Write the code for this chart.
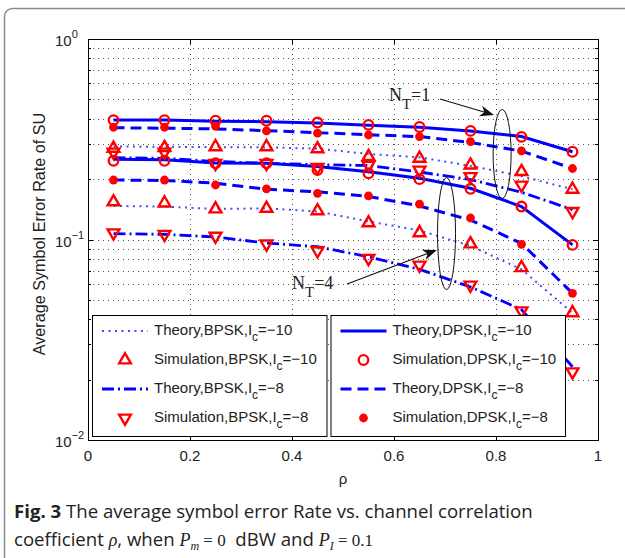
<!DOCTYPE html>
<html>
<head>
<meta charset="utf-8">
<script src="https://cdn.jsdelivr.net/npm/d3@7"></script>
<style>
  body { margin: 0; background: #fff; }
  svg { display: block; }
</style>
</head>
<body>
<div id="chart"></div>
<script>
// rho values where the curves were evaluated
const rho = [0.05, 0.15, 0.25, 0.35, 0.45, 0.55, 0.65, 0.75, 0.85, 0.95];

// N_T = 1
const bpskTheoryM10Nt1 = [0.291, 0.290, 0.289, 0.288, 0.284, 0.267, 0.257, 0.233, 0.207, 0.178];
const bpskSimM10Nt1 = [0.285, 0.287, 0.290, 0.290, 0.283, 0.259, 0.254, 0.235, 0.218, 0.178];
const bpskTheoryM8Nt1 = [0.256, 0.254, 0.245, 0.240, 0.236, 0.234, 0.217, 0.199, 0.172, 0.141];
const bpskSimM8Nt1 = [0.273, 0.273, 0.240, 0.240, 0.229, 0.235, 0.222, 0.206, 0.187, 0.138];
const dpskTheoryM10Nt1 = [0.394, 0.394, 0.389, 0.387, 0.381, 0.371, 0.363, 0.348, 0.326, 0.274];
const dpskSimM10Nt1 = [0.394, 0.394, 0.391, 0.391, 0.383, 0.373, 0.364, 0.348, 0.325, 0.274];
const dpskTheoryM8Nt1 = [0.361, 0.359, 0.356, 0.349, 0.341, 0.333, 0.326, 0.305, 0.276, 0.226];
const dpskSimM8Nt1 = [0.363, 0.363, 0.368, 0.348, 0.339, 0.332, 0.326, 0.308, 0.277, 0.226];

// N_T = 4
const bpskTheoryM10Nt4 = [0.147, 0.146, 0.142, 0.143, 0.138, 0.123, 0.111, 0.093, 0.071, 0.043];
const bpskSimM10Nt4 = [0.154, 0.152, 0.142, 0.143, 0.139, 0.121, 0.108, 0.095, 0.0723, 0.0431];
const bpskTheoryM8Nt4 = [0.107, 0.106, 0.103, 0.096, 0.092, 0.082, 0.071, 0.058, 0.0447, 0.0232];
const bpskSimM8Nt4 = [0.108, 0.106, 0.104, 0.095, 0.088, 0.0806, 0.0746, 0.0593, 0.0441, 0.0219];
const dpskTheoryM10Nt4 = [0.251, 0.250, 0.241, 0.240, 0.231, 0.218, 0.202, 0.180, 0.146, 0.094];
const dpskSimM10Nt4 = [0.247, 0.247, 0.240, 0.240, 0.222, 0.214, 0.200, 0.179, 0.146, 0.094];
const dpskTheoryM8Nt4 = [0.198, 0.197, 0.191, 0.178, 0.173, 0.164, 0.147, 0.125, 0.0957, 0.0539];
const dpskSimM8Nt4 = [0.198, 0.198, 0.187, 0.179, 0.170, 0.165, 0.150, 0.128, 0.0946, 0.0539];

// axis ticks
const xTicks = [0, 0.2, 0.4, 0.6, 0.8, 1];
const xTickLabels = ['0', '0.2', '0.4', '0.6', '0.8', '1'];
const yDecades = [0.01, 0.1, 1];
const yExponents = ['\u22122', '\u22121', '0'];

// legend text: [main, subscript, tail]
const legendLeft = [
  ['Theory,BPSK,I', 'c', '=\u221210'],
  ['Simulation,BPSK,I', 'c', '=\u221210'],
  ['Theory,BPSK,I', 'c', '=\u22128'],
  ['Simulation,BPSK,I', 'c', '=\u22128'],
];
const legendRight = [
  ['Theory,DPSK,I', 'c', '=\u221210'],
  ['Simulation,DPSK,I', 'c', '=\u221210'],
  ['Theory,DPSK,I', 'c', '=\u22128'],
  ['Simulation,DPSK,I', 'c', '=\u22128'],
];

const width = 625;
const height = 558;
const margin = { top: 39, right: 27, bottom: 118, left: 88 };

const blue = '#0000ff';
const red = '#ff0000';

const styles = {
  bpsk10: { dash: '2,4.5', width: 2, color: '#3d4dff', marker: 'up' },
  bpsk8: { dash: '12,4,2,4', width: 2.8, color: blue, marker: 'down' },
  dpsk10: { dash: null, width: 3, color: blue, marker: 'circle' },
  dpsk8: { dash: '11,6', width: 3, color: blue, marker: 'dot' },
};

const series = [
  { theory: bpskTheoryM10Nt1, sim: bpskSimM10Nt1, style: 'bpsk10' },
  { theory: bpskTheoryM8Nt1, sim: bpskSimM8Nt1, style: 'bpsk8' },
  { theory: dpskTheoryM10Nt1, sim: dpskSimM10Nt1, style: 'dpsk10' },
  { theory: dpskTheoryM8Nt1, sim: dpskSimM8Nt1, style: 'dpsk8' },
  { theory: bpskTheoryM10Nt4, sim: bpskSimM10Nt4, style: 'bpsk10' },
  { theory: bpskTheoryM8Nt4, sim: bpskSimM8Nt4, style: 'bpsk8' },
  { theory: dpskTheoryM10Nt4, sim: dpskSimM10Nt4, style: 'dpsk10' },
  { theory: dpskTheoryM8Nt4, sim: dpskSimM8Nt4, style: 'dpsk8' },
];

const svg = d3
  .select('#chart')
  .append('svg')
  .attr('width', width)
  .attr('height', height);

// page frame with rounded corner (runs off right/bottom)
svg
  .append('rect')
  .attr('x', 4.5)
  .attr('y', 8.5)
  .attr('width', 700)
  .attr('height', 700)
  .attr('rx', 8)
  .attr('fill', 'none')
  .attr('stroke', '#8a8a8a')
  .attr('stroke-width', 1.5);

const x = d3
  .scaleLinear()
  .domain([0, 1])
  .range([margin.left, width - margin.right]);
const y = d3
  .scaleLog()
  .domain([0.01, 1])
  .range([height - margin.bottom, margin.top]);

const [x0, x1] = x.range();
const [y0, y1] = y.range();

svg
  .append('defs')
  .append('clipPath')
  .attr('id', 'plot-clip')
  .append('rect')
  .attr('x', x0)
  .attr('y', y1)
  .attr('width', x1 - x0)
  .attr('height', y0 - y1);

// dotted grid
const grid = svg
  .append('g')
  .attr('stroke', '#555')
  .attr('stroke-width', 1)
  .attr('stroke-dasharray', '1,4');

grid
  .selectAll('line.vx')
  .data(xTicks.slice(1, -1))
  .join('line')
  .attr('x1', (d) => Math.round(x(d)) + 0.5)
  .attr('x2', (d) => Math.round(x(d)) + 0.5)
  .attr('y1', y0)
  .attr('y2', y1);

const yMinor = y.ticks().filter((d) => d > 0.0101 && d < 0.99);
grid
  .selectAll('line.hy')
  .data(yMinor)
  .join('line')
  .attr('x1', x0)
  .attr('x2', x1)
  .attr('y1', (d) => Math.round(y(d)) + 0.5)
  .attr('y2', (d) => Math.round(y(d)) + 0.5);

// theory curves
const line = d3
  .line()
  .x((d, i) => x(rho[i]))
  .y((d) => y(d));

const plot = svg.append('g').attr('clip-path', 'url(#plot-clip)');

plot
  .selectAll('path.theory')
  .data(series)
  .join('path')
  .attr('class', 'theory')
  .attr('d', (s) => line(s.theory))
  .attr('fill', 'none')
  .attr('stroke', (s) => styles[s.style].color)
  .attr('stroke-width', (s) => styles[s.style].width)
  .attr('stroke-dasharray', (s) => styles[s.style].dash);

// simulation markers
function drawMarker(g, kind, cx, cy) {
  if (kind === 'circle') {
    g.append('circle')
      .attr('cx', cx)
      .attr('cy', cy)
      .attr('r', 4.8)
      .attr('fill', 'none')
      .attr('stroke', red)
      .attr('stroke-width', 2.3);
  } else if (kind === 'dot') {
    g.append('circle')
      .attr('cx', cx)
      .attr('cy', cy)
      .attr('r', 4.4)
      .attr('fill', red);
  } else {
    const tri = d3.symbol(d3.symbolTriangle, 60)();
    g.append('path')
      .attr('d', tri)
      .attr('transform', `translate(${cx},${cy})${kind === 'down' ? ' rotate(180)' : ''}`)
      .attr('fill', 'none')
      .attr('stroke', red)
      .attr('stroke-width', 2.4)
      .attr('stroke-linejoin', 'miter');
  }
}

const markers = svg.append('g');
series.forEach((s) => {
  s.sim.forEach((v, i) => {
    drawMarker(markers, styles[s.style].marker, x(rho[i]), y(v));
  });
});

// axes box and ticks (inward, MATLAB-like)
const axes = svg.append('g').attr('stroke', '#000').attr('stroke-width', 1);
axes
  .append('rect')
  .attr('x', x0 + 0.5)
  .attr('y', y1 + 0.5)
  .attr('width', x1 - x0)
  .attr('height', y0 - y1)
  .attr('fill', 'none');

xTicks.forEach((t) => {
  const px = Math.round(x(t)) + 0.5;
  axes.append('line').attr('x1', px).attr('x2', px).attr('y1', y0).attr('y2', y0 - 5);
  axes.append('line').attr('x1', px).attr('x2', px).attr('y1', y1).attr('y2', y1 + 5);
});

y.ticks().forEach((t) => {
  const py = Math.round(y(t)) + 0.5;
  const len = yDecades.some((d) => Math.abs(d - t) < 1e-9) ? 5 : 3;
  axes.append('line').attr('x1', x0).attr('x2', x0 + len).attr('y1', py).attr('y2', py);
  axes.append('line').attr('x1', x1).attr('x2', x1 - len).attr('y1', py).attr('y2', py);
});

const labelFont = '"Liberation Sans", Arial, sans-serif';

svg
  .append('g')
  .selectAll('text')
  .data(xTicks)
  .join('text')
  .attr('x', (d) => x(d))
  .attr('y', y0 + 21)
  .attr('text-anchor', 'middle')
  .attr('font-family', labelFont)
  .attr('font-size', 15)
  .attr('fill', '#222')
  .text((d, i) => xTickLabels[i]);

const yLabels = svg
  .append('g')
  .selectAll('text')
  .data(yDecades)
  .join('text')
  .attr('x', 55)
  .attr('y', (d) => y(d) + 7)
  .attr('font-family', labelFont)
  .attr('font-size', 15)
  .attr('fill', '#222');
yLabels.append('tspan').text('10');
yLabels
  .append('tspan')
  .attr('dy', -8)
  .attr('font-size', 11)
  .text((d, i) => yExponents[i]);

svg
  .append('text')
  .attr('transform', `translate(44.5,${(y0 + y1) / 2 - 5.5}) rotate(-90)`)
  .attr('text-anchor', 'middle')
  .attr('font-family', labelFont)
  .attr('font-size', 16.2)
  .attr('fill', '#222')
  .text('Average Symbol Error Rate of SU');

svg
  .append('text')
  .attr('x', (x0 + x1) / 2)
  .attr('y', y0 + 44)
  .attr('text-anchor', 'middle')
  .attr('font-family', labelFont)
  .attr('font-size', 15)
  .attr('fill', '#222')
  .text('\u03c1');

// annotations: ellipses, arrows, N_T labels (data coordinates)
const ellipses = [
  { rho: 0.812, value: 0.267, rx: 9, ry: 44.5 },
  { rho: 0.703, value: 0.107, rx: 9, ry: 56 },
];
const arrows = [
  { from: [0.69, 0.502], to: [0.796, 0.418] },
  { from: [0.508, 0.06], to: [0.684, 0.0887] },
];
const ntLabels = [
  { rho: 0.590, value: 0.488, n: '1' },
  { rho: 0.400, value: 0.0566, n: '4' },
];

const ann = svg.append('g');
ann
  .selectAll('ellipse')
  .data(ellipses)
  .join('ellipse')
  .attr('cx', (d) => x(d.rho))
  .attr('cy', (d) => y(d.value))
  .attr('rx', (d) => d.rx)
  .attr('ry', (d) => d.ry)
  .attr('fill', 'none')
  .attr('stroke', '#111')
  .attr('stroke-width', 1);

arrows.forEach((a) => {
  const ax = x(a.from[0]);
  const ay = y(a.from[1]);
  const bx = x(a.to[0]);
  const by = y(a.to[1]);
  const ang = (Math.atan2(by - ay, bx - ax) * 180) / Math.PI;
  ann
    .append('line')
    .attr('x1', ax)
    .attr('y1', ay)
    .attr('x2', bx - 6 * Math.cos((ang * Math.PI) / 180))
    .attr('y2', by - 6 * Math.sin((ang * Math.PI) / 180))
    .attr('stroke', '#111')
    .attr('stroke-width', 1.1);
  ann
    .append('path')
    .attr('d', 'M0,0 L-14,-5.5 L-10,0 L-14,5.5 Z')
    .attr('transform', `translate(${bx},${by}) rotate(${ang})`)
    .attr('fill', '#111');
});

const nt = ann
  .selectAll('text')
  .data(ntLabels)
  .join('text')
  .attr('x', (d) => x(d.rho))
  .attr('y', (d) => y(d.value))
  .attr('font-family', '"Liberation Serif", "Times New Roman", serif')
  .attr('font-size', 18)
  .attr('fill', '#222');
nt.append('tspan').text('N');
nt.append('tspan').attr('dy', 8).attr('font-size', 15).text('T');
nt.append('tspan').attr('dy', -8).text((d) => '=' + d.n);

// legends
function drawLegend(bx, by, entries, keys) {
  const w = 234.5;
  const h = 121;
  const g = svg.append('g');
  g.append('rect')
    .attr('x', bx + 0.5)
    .attr('y', by + 0.5)
    .attr('width', w)
    .attr('height', h)
    .attr('fill', '#fff')
    .attr('stroke', '#000')
    .attr('stroke-width', 1);
  entries.forEach((e, i) => {
    const ry = by + 16 + i * 29;
    const st = styles[keys[i]];
    if (i % 2 === 0) {
      g.append('line')
        .attr('x1', bx + 10)
        .attr('x2', bx + 56)
        .attr('y1', ry)
        .attr('y2', ry)
        .attr('stroke', st.color)
        .attr('stroke-width', st.width)
        .attr('stroke-dasharray', st.dash);
    } else {
      drawMarker(g, st.marker, bx + 33, ry);
    }
    const t = g
      .append('text')
      .attr('x', bx + 62)
      .attr('y', ry + 3.5)
      .attr('font-family', labelFont)
      .attr('font-size', 15)
      .attr('fill', '#222');
    t.append('tspan').text(e[0]);
    t.append('tspan').attr('dy', 6).attr('font-size', 12).text(e[1]);
    t.append('tspan').attr('dy', -6).text(e[2]);
  });
}

drawLegend(92, 315, legendLeft, ['bpsk10', 'bpsk10', 'bpsk8', 'bpsk8']);
drawLegend(330.5, 315, legendRight, ['dpsk10', 'dpsk10', 'dpsk8', 'dpsk8']);

// caption
const capFont = '"Open Sans", "Noto Sans", sans-serif';
const mathFont = '"Liberation Serif", "Times New Roman", serif';
const capSize = 18.6;
const mathSize = 17;

const cap1 = svg
  .append('text')
  .attr('x', 14)
  .attr('y', 518)
  .attr('font-family', capFont)
  .attr('font-size', capSize)
  .attr('fill', '#222');
cap1.append('tspan').attr('font-weight', 'bold').text('Fig. 3');
cap1.append('tspan').text(' The average symbol error Rate vs. channel correlation');

const cap2 = svg
  .append('text')
  .attr('x', 14)
  .attr('y', 546)
  .attr('font-family', capFont)
  .attr('font-size', capSize)
  .attr('fill', '#222')
  .attr('xml:space', 'preserve');
cap2.append('tspan').text('coefficient ');
cap2.append('tspan').attr('font-family', mathFont).attr('font-style', 'italic').attr('font-size', mathSize + 1).text('\u03c1');
cap2.append('tspan').text(', when ');
cap2.append('tspan').attr('font-family', mathFont).attr('font-style', 'italic').attr('font-size', mathSize + 1).text('P');
cap2.append('tspan').attr('font-family', mathFont).attr('font-style', 'italic').attr('font-size', 12).attr('dy', 4).text('m');
cap2.append('tspan').attr('font-family', mathFont).attr('font-size', mathSize).attr('dy', -4).text(' = 0');
cap2.append('tspan').text('\u00a0\u00a0dBW and ');
cap2.append('tspan').attr('font-family', mathFont).attr('font-style', 'italic').attr('font-size', mathSize + 1).text('P');
cap2.append('tspan').attr('font-family', mathFont).attr('font-style', 'italic').attr('font-size', 12).attr('dy', 4).text('I');
cap2.append('tspan').attr('font-family', mathFont).attr('font-size', mathSize).attr('dy', -4).text(' = 0.1');
</script>
</body>
</html>
